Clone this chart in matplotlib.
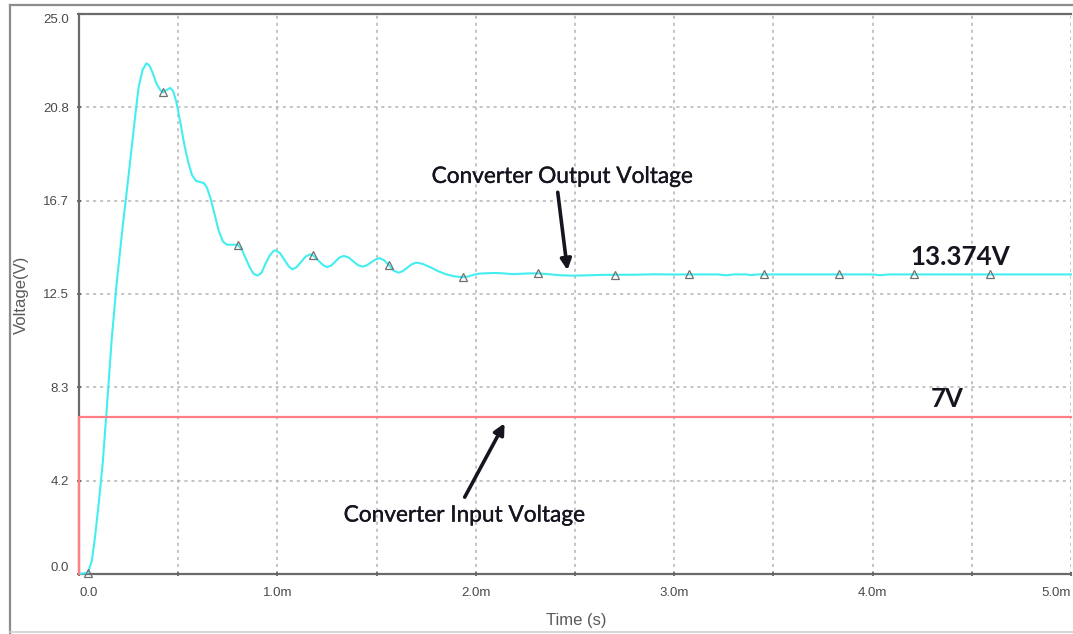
import numpy as np
import matplotlib
matplotlib.use("Agg")
import matplotlib.pyplot as plt
from matplotlib.lines import Line2D
import matplotlib.patheffects as pe

# ---- data (time in ms, voltage in V) ----
out_t = [0.000, 0.045, 0.065, 0.080, 0.100, 0.120, 0.140, 0.165, 0.190, 0.220,
         0.250, 0.280, 0.300, 0.320, 0.340, 0.355, 0.370, 0.390, 0.410, 0.423,
         0.440, 0.460, 0.475, 0.490, 0.510, 0.530, 0.550, 0.570, 0.590, 0.610,
         0.630, 0.645, 0.665, 0.685, 0.705, 0.725, 0.745, 0.770, 0.800, 0.820,
         0.840, 0.860, 0.880, 0.900, 0.920, 0.940, 0.960, 0.980, 0.990, 1.0125,
         1.035, 1.0575, 1.075, 1.097, 1.120, 1.142, 1.165, 1.178, 1.207, 1.230,
         1.250, 1.271, 1.292, 1.313, 1.335, 1.359, 1.382, 1.406, 1.430, 1.451,
         1.472, 1.494, 1.515, 1.539, 1.561, 1.586, 1.610, 1.632, 1.655, 1.678,
         1.700, 1.730, 1.770, 1.810, 1.850, 1.890, 1.934, 1.960, 1.990, 2.020,
         2.060, 2.100, 2.140, 2.180, 2.220, 2.270, 2.316, 2.360, 2.420, 2.480,
         2.550, 2.620, 2.700, 2.800, 2.900, 3.000, 3.077, 3.220, 3.260, 3.300,
         3.360, 3.390, 3.420, 3.454, 3.600, 3.750, 3.830, 4.000, 4.040, 4.080,
         4.210, 4.350, 4.500, 4.590, 4.750, 5.000]
out_v = [0.00, 0.05, 0.6, 1.6, 3.2, 5.0, 7.4, 10.5, 13.0, 15.5,
         17.8, 20.2, 21.7, 22.5, 22.8, 22.7, 22.4, 21.9, 21.6, 21.5,
         21.6, 21.7, 21.55, 21.1, 20.2, 19.2, 18.4, 17.8, 17.55, 17.5,
         17.45, 17.25, 16.7, 16.0, 15.3, 14.85, 14.7, 14.7, 14.7, 14.5,
         14.1, 13.7, 13.4, 13.32, 13.45, 13.85, 14.2, 14.42, 14.45, 14.33,
         14.03, 13.73, 13.6, 13.70, 13.94, 14.17, 14.27, 14.24, 13.99, 13.79,
         13.70, 13.77, 13.95, 14.13, 14.20, 14.13, 13.96, 13.79, 13.72, 13.78,
         13.91, 14.04, 14.10, 14.00, 13.80, 13.55, 13.45, 13.52, 13.68, 13.83,
         13.90, 13.85, 13.70, 13.52, 13.38, 13.29, 13.25, 13.28, 13.36, 13.41,
         13.43, 13.44, 13.42, 13.39, 13.40, 13.42, 13.42, 13.39, 13.34, 13.32,
         13.33, 13.35, 13.36, 13.36, 13.38, 13.37, 13.374, 13.374, 13.335, 13.374,
         13.374, 13.345, 13.374, 13.374, 13.374, 13.374, 13.374, 13.374, 13.34, 13.374,
         13.374, 13.374, 13.374, 13.374, 13.374, 13.374]
marker_t = [0.045, 0.423, 0.800, 1.178, 1.561, 1.934, 2.316, 2.700, 3.077, 3.454,
            3.830, 4.210, 4.590]

in_t = [0.0, 0.0, 5.0]
in_v = [0.0, 7.0, 7.0]

y_ticks = [0.0, 25 / 6, 25 / 3, 12.5, 50 / 3, 125 / 6, 25.0]
y_labels = ["0.0", "4.2", "8.3", "12.5", "16.7", "20.8", "25.0"]
x_ticks = [0.0, 0.5, 1.0, 1.5, 2.0, 2.5, 3.0, 3.5, 4.0, 4.5, 5.0]
x_labels = ["0.0", "", "1.0m", "", "2.0m", "", "3.0m", "", "4.0m", "", "5.0m"]

W, H = 1073, 634
fig = plt.figure(figsize=(W / 100, H / 100), dpi=100)
fig.patch.set_facecolor("white")


def px(x, y):
    return x / W, 1 - y / H


# outer frame around the plot window
fr = "#8c8c8c"
for (x0, y0), (x1, y1), c, lw in [((10, 5), (1073, 5), fr, 1.6),
                                  ((10, 5), (10, 633), fr, 1.6),
                                  ((10, 632), (1073, 632), "#cfcfcf", 1.2)]:
    a, b = px(x0, y0)
    c2, d = px(x1, y1)
    fig.add_artist(Line2D([a, c2], [b, d], color=c, lw=lw, transform=fig.transFigure))

ax = fig.add_axes([79 / W, (H - 574) / H, (1071 - 79) / W, (574 - 14) / H])
ax.set_xlim(0, 5.0)
ax.set_ylim(0, 25.0)

grid_kw = dict(color="#b4b4b4", lw=1.1, linestyle=(0, (2.0, 2.6)))
for xt in x_ticks[1:]:
    ax.axvline(xt, zorder=0, **grid_kw)
for yt in y_ticks[1:-1]:
    ax.axhline(yt, zorder=0, **grid_kw)

# output voltage trace
ax.plot(out_t, out_v, color="#44eef0", lw=1.5, zorder=3, clip_on=False,
        solid_joinstyle="round")
mk_idx = [out_t.index(m) for m in marker_t]
ax.plot([out_t[i] for i in mk_idx], [out_v[i] for i in mk_idx], linestyle="none",
        marker="^", markersize=5.8, markerfacecolor="none", markeredgecolor="#707070",
        markeredgewidth=0.9, zorder=4, clip_on=False)

# input voltage trace
ax.plot(in_t, in_v, color="#ff7f86", lw=1.6, zorder=5, clip_on=False)

for side in ["left", "bottom", "top"]:
    ax.spines[side].set_color("#6a6a6a")
    ax.spines[side].set_linewidth(1.6)
ax.spines["right"].set_visible(False)

ax.set_xticks(x_ticks)
ax.set_xticklabels(x_labels)
ax.set_yticks(y_ticks)
ax.set_yticklabels(y_labels)
ax.tick_params(axis="both", direction="inout", length=3, width=1.2, color="#555555",
               labelsize=9.5, labelcolor="#4a4a4a")
ax.tick_params(axis="y", pad=6)
ax.tick_params(axis="x", pad=8)
for lab in ax.get_yticklabels() + ax.get_xticklabels():
    lab.set_fontfamily("Liberation Sans")
xl = ax.get_xticklabels()
xl[0].set_horizontalalignment("left")
xl[-1].set_horizontalalignment("right")
yl = ax.get_yticklabels()
yl[0].set_verticalalignment("bottom")
yl[-1].set_verticalalignment("top")

fig.text(576 / W, 1 - 621 / H, "Time (s)", ha="center", va="center",
         fontsize=12, color="#5a5a5a", family="Liberation Sans")
fig.text(21 / W, 1 - 295 / H, "Voltage(V)", ha="center", va="center", rotation=90,
         fontsize=12, color="#5a5a5a", family="Liberation Sans")

ink = "#15151f"
thick = [pe.withStroke(linewidth=0.25, foreground=ink)]
arrow = dict(arrowstyle="-|>", lw=2.6, color=ink, mutation_scale=16, shrinkA=0, shrinkB=0)
ax.annotate("", xy=(2.462, 13.56), xytext=(2.413, 17.04), arrowprops=arrow, zorder=6)
ax.annotate("", xy=(2.145, 6.73), xytext=(1.944, 3.43), arrowprops=arrow, zorder=6)

ax.text(2.437, 17.75, "Converter Output Voltage", ha="center", va="center",
        fontsize=16.3, color=ink, family="Lato", zorder=7, path_effects=thick)
ax.text(1.944, 2.63, "Converter Input Voltage", ha="center", va="center",
        fontsize=16.3, color=ink, family="Lato", zorder=7, path_effects=thick)
ax.text(4.44, 14.14, "13.374V", ha="center", va="center",
        fontsize=18.7, fontweight="bold", color=ink, family="Lato", zorder=7)
ax.text(4.376, 7.8, "7V", ha="center", va="center",
        fontsize=18.5, fontweight="bold", color=ink, family="Lato", zorder=7)

fig.savefig("out.png", dpi=100, facecolor="white")
